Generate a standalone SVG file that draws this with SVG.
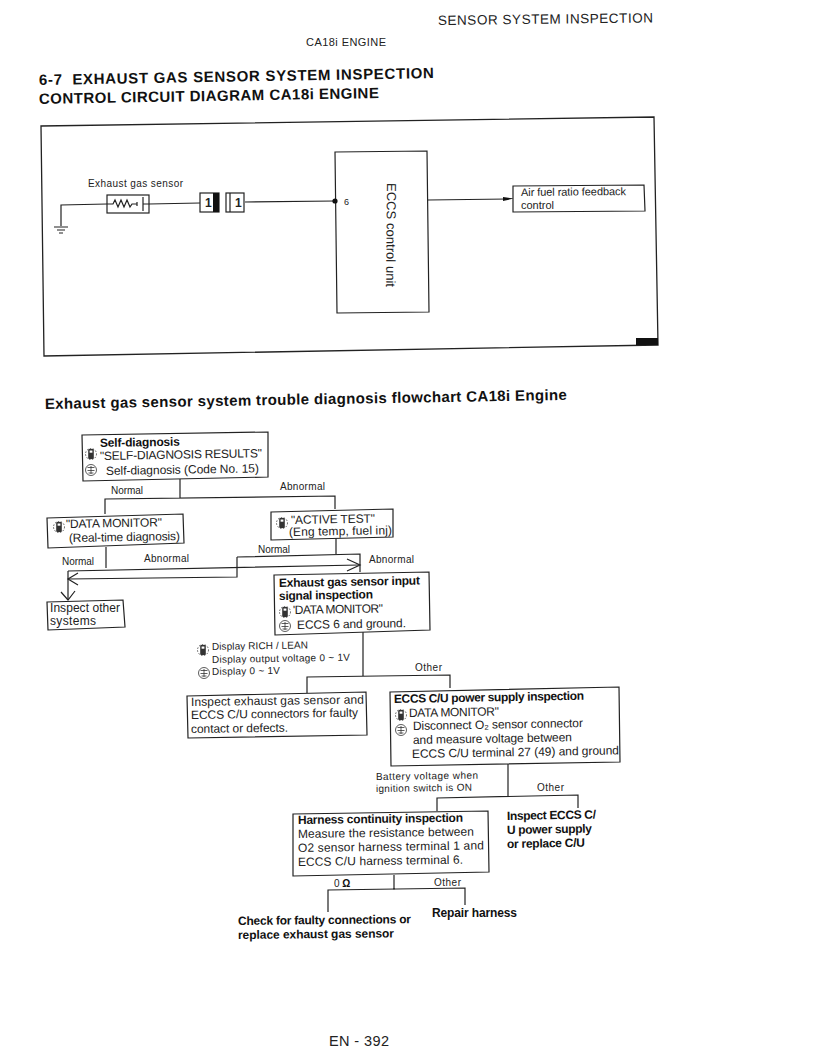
<svg xmlns="http://www.w3.org/2000/svg" width="816" height="1056" viewBox="0 0 816 1056">
<style>
text{font-family:"Liberation Sans",Arial,sans-serif;fill:#222}
.b{font-weight:bold;fill:#111}
.box{fill:#fff;stroke:#222;stroke-width:1.2}
.ln{fill:none;stroke:#222;stroke-width:1.2}
.s{font-size:12px}
.t{font-size:15px;font-weight:bold;fill:#111;white-space:pre}
.m{font-size:11px}
.l{font-size:10px}
.ic{fill:#333}
.ico{fill:none;stroke:#333;stroke-width:.8}
</style>
<defs>
<g id="tester"><circle class="ico" cx="0" cy="0" r="5.500" stroke-dasharray="1.500 1.500"/><rect class="ic" x="-2.800" y="-5" width="5.600" height="10" rx="1"/><rect x="-1.400" y="-3.500" width="2.800" height="2.200" fill="#fff"/></g>
<g id="meter"><circle class="ico" cx="0" cy="0" r="5.500"/><path class="ico" d="M-3.500-2.500H3.500M-2.500 3H2.500M0-4V4M-3.500 .5H3.500"/></g>
</defs>
<rect width="816" height="1056" fill="#fff"/>
<g id="page-text">
<text x="438" y="25" font-size="13.500" textLength="215" transform="rotate(-.7 438 25)">SENSOR SYSTEM INSPECTION</text>
<text x="306" y="46" font-size="11" textLength="80">CA18i ENGINE</text>
<text class="t" x="39" y="85" textLength="395" transform="rotate(-1 39 85)">6-7  EXHAUST GAS SENSOR SYSTEM INSPECTION</text>
<text class="t" x="39" y="104" textLength="340" transform="rotate(-1 39 104)">CONTROL CIRCUIT DIAGRAM CA18i ENGINE</text>
<text class="t" x="45" y="409" textLength="522" transform="rotate(-1 45 409)">Exhaust gas sensor system trouble diagnosis flowchart CA18i Engine</text>
<text x="329" y="1046" font-size="14.500" textLength="60">EN - 392</text>
</g>
<g id="circuit-frame">
<polygon points="41,126 654,117 658,345 44,356" fill="none" stroke="#222" stroke-width="1.3"/>
<rect x="636" y="338" width="22" height="7" fill="#111"/>
</g>
<g id="connectors">
<path class="ln" d="M61 226V205L107 204"/>
<path class="ln" d="M149 204L200 203M245 202L335 201"/>
<path class="ln" d="M428 200L508 199"/>
<path d="M503 197L514 198.500L503 201Z" fill="#111"/>
<path class="ln" d="M180 479V498M105 514V499L335 496V509"/>
<path class="ln" d="M336 538V554M237 557L360 554V572M237 557V577L68 579"/>
<path class="ln" d="M78 573L68 579L78 585"/>
<path class="ln" d="M106 547V568M68 571L359 565M68 571V600"/>
<path class="ln" d="M61 592L68 600L75 591M347 559L360 565L347 571"/>
<path class="ln" d="M363 632V676M307 693V677L450 675V688"/>
<path class="ln" d="M508 764V796M437 811V798L578 795V808"/>
<path class="ln" d="M394 875V890M328 912V890L465 888V905"/>
</g>
<g id="ground"><path class="ln" d="M54 227H68M57 230H65M59 233H63"/></g>
<g id="sensor">
<text class="l" x="88" y="187" textLength="95">Exhaust gas sensor</text>
<rect class="box" x="107" y="195" width="42" height="18"/>
<path class="ln" d="M107 204H113L115 200L118 207L121 200L124 207L127 200L130 207L132 204H137M137 202V206M143 197V211M143 204H149"/>
</g>
<g id="connector-a">
<rect class="box" x="200" y="193" width="19" height="19"/>
<rect x="213" y="193" width="6" height="19" fill="#111"/>
<text x="205" y="207" font-size="12" font-weight="bold">1</text>
</g>
<g id="connector-b">
<rect class="box" x="226" y="193" width="18" height="19"/>
<path class="ln" d="M230 193V212"/>
<text x="235" y="207" font-size="12" font-weight="bold">1</text>
</g>
<g id="eccs-unit">
<polygon class="box" points="335,152 427,151 429,312 337,313"/>
<circle cx="335" cy="201" r="2.600" fill="#111"/>
<text x="344" y="205" font-size="9">6</text>
<text x="387" y="183" font-size="13" textLength="104" transform="rotate(90.500 387 183)">ECCS control unit</text>
</g>
<g id="feedback">
<polygon class="box" points="513,186 644,185 645,211 513,212"/>
<text class="m" x="521" y="196" textLength="105" transform="rotate(-.5 521 196)">Air fuel ratio feedback</text>
<text class="m" x="521" y="209" textLength="33">control</text>
</g>
<g id="self-diagnosis">
<polygon class="box" points="82,435 268,432 268,477 83,481"/>
<text class="s b" x="100" y="447" textLength="80" transform="rotate(-1 100 447)">Self-diagnosis</text>
<use href="#tester" x="91" y="454"/>
<text class="s" x="100" y="460" textLength="162" transform="rotate(-1 100 460)">"SELF-DIAGNOSIS RESULTS"</text>
<use href="#meter" x="91" y="470"/>
<text class="s" x="106" y="475" textLength="153" transform="rotate(-1 106 475)">Self-diagnosis (Code No. 15)</text>
</g>
<g id="labels-1">
<text class="l" x="111" y="494" textLength="32">Normal</text>
<text class="l" x="280" y="490" textLength="45">Abnormal</text>
<text class="l" x="258" y="553" textLength="32">Normal</text>
<text class="l" x="369" y="563" textLength="45">Abnormal</text>
<text class="l" x="62" y="565" textLength="32">Normal</text>
<text class="l" x="144" y="562" textLength="45">Abnormal</text>
</g>
<g id="data-monitor">
<polygon class="box" points="47,518 183,514 184,543 48,548"/>
<use href="#tester" x="59" y="527"/>
<text class="s" x="66" y="528" textLength="96" transform="rotate(-1 66 528)">"DATA MONITOR"</text>
<text class="s" x="69" y="542" textLength="111" transform="rotate(-1 69 542)">(Real-time diagnosis)</text>
</g>
<g id="active-test">
<polygon class="box" points="271,512 393,509 393,537 271,540"/>
<use href="#tester" x="282" y="523"/>
<text class="s" x="291" y="524" textLength="84" transform="rotate(-1 291 524)">"ACTIVE TEST"</text>
<text class="s" x="289" y="536" textLength="103" transform="rotate(-1 289 536)">(Eng temp, fuel inj)</text>
</g>
<g id="inspect-other">
<polygon class="box" points="47,602 123,600 125,627 48,630"/>
<text class="s" x="50" y="612" textLength="70">Inspect other</text>
<text class="s" x="50" y="625" textLength="46">systems</text>
</g>
<g id="input-inspection">
<polygon class="box" points="274,575 429,572 430,630 275,635"/>
<text class="s b" x="279" y="587" textLength="141" transform="rotate(-1 279 587)">Exhaust gas sensor input</text>
<text class="s b" x="279" y="600" textLength="94" transform="rotate(-1 279 600)">signal inspection</text>
<use href="#tester" x="285" y="612"/>
<text class="s" x="293" y="614" textLength="90" transform="rotate(-1 293 614)">'DATA MONITOR"</text>
<use href="#meter" x="285" y="626"/>
<text class="s" x="297" y="629" textLength="109" transform="rotate(-1 297 629)">ECCS 6 and ground.</text>
</g>
<g id="conditions-1">
<use href="#tester" x="203" y="650"/>
<text class="l" x="212" y="650" textLength="96" transform="rotate(-1 212 650)">Display RICH / LEAN</text>
<text class="l" x="212" y="663" textLength="138" transform="rotate(-1 212 663)">Display output voltage 0 ~ 1V</text>
<use href="#meter" x="204" y="673"/>
<text class="l" x="212" y="675" textLength="68" transform="rotate(-1 212 675)">Display 0 ~ 1V</text>
<text class="l" x="415" y="671" textLength="27">Other</text>
</g>
<g id="inspect-connectors">
<polygon class="box" points="187,696 366,692 367,735 188,738"/>
<text class="s" x="191" y="706" textLength="173" transform="rotate(-.8 191 706)">Inspect exhaust gas sensor and</text>
<text class="s" x="191" y="719" textLength="167" transform="rotate(-.8 191 719)">ECCS C/U connectors for faulty</text>
<text class="s" x="191" y="733" textLength="97" transform="rotate(-.8 191 733)">contact or defects.</text>
</g>
<g id="power-supply">
<polygon class="box" points="390,692 619,687 620,762 391,766"/>
<text class="s b" x="394" y="703" textLength="190" transform="rotate(-1 394 703)">ECCS C/U power supply inspection</text>
<use href="#tester" x="401" y="715"/>
<text class="s" x="409" y="717" textLength="90" transform="rotate(-1 409 717)">DATA MONITOR"</text>
<use href="#meter" x="401" y="730"/>
<text class="s" x="413" y="730" textLength="170" transform="rotate(-1 413 730)">Disconnect O₂ sensor connector</text>
<text class="s" x="413" y="744" textLength="159" transform="rotate(-1 413 744)">and measure voltage between</text>
<text class="s" x="412" y="758" textLength="207" transform="rotate(-1 412 758)">ECCS C/U terminal 27 (49) and ground</text>
</g>
<g id="labels-2">
<text class="l" x="376" y="780" textLength="102" transform="rotate(-.8 376 780)">Battery voltage when</text>
<text class="l" x="376" y="792" textLength="96" transform="rotate(-.8 376 792)">ignition switch is ON</text>
<text class="l" x="537" y="791" textLength="27">Other</text>
</g>
<g id="inspect-power">
<text class="s b" x="507" y="820" textLength="89" transform="rotate(-1 507 820)">Inspect ECCS C/</text>
<text class="s b" x="507" y="834" textLength="85" transform="rotate(-1 507 834)">U power supply</text>
<text class="s b" x="507" y="848" textLength="78" transform="rotate(-1 507 848)">or replace C/U</text>
</g>
<g id="harness">
<polygon class="box" points="293,814 488,811 489,872 293,876"/>
<text class="s b" x="298" y="824" textLength="165" transform="rotate(-.8 298 824)">Harness continuity inspection</text>
<text class="s" x="298" y="838" textLength="176" transform="rotate(-.8 298 838)">Measure the resistance between</text>
<text class="s" x="298" y="852" textLength="186" transform="rotate(-.8 298 852)">O2 sensor harness terminal 1 and</text>
<text class="s" x="298" y="866" textLength="165" transform="rotate(-.8 298 866)">ECCS C/U harness terminal 6.</text>
</g>
<g id="labels-3">
<text class="l" x="334" y="887" font-size="10">0 <tspan class="b">Ω</tspan></text>
<text class="l" x="434" y="886" textLength="27">Other</text>
</g>
<g id="check-connections">
<text class="s b" x="238" y="925" textLength="173" transform="rotate(-.6 238 925)">Check for faulty connections or</text>
<text class="s b" x="238" y="939" textLength="156" transform="rotate(-.6 238 939)">replace exhaust gas sensor</text>
</g>
<g id="repair"><text class="s b" x="432" y="917" textLength="85">Repair harness</text></g>
</svg>
